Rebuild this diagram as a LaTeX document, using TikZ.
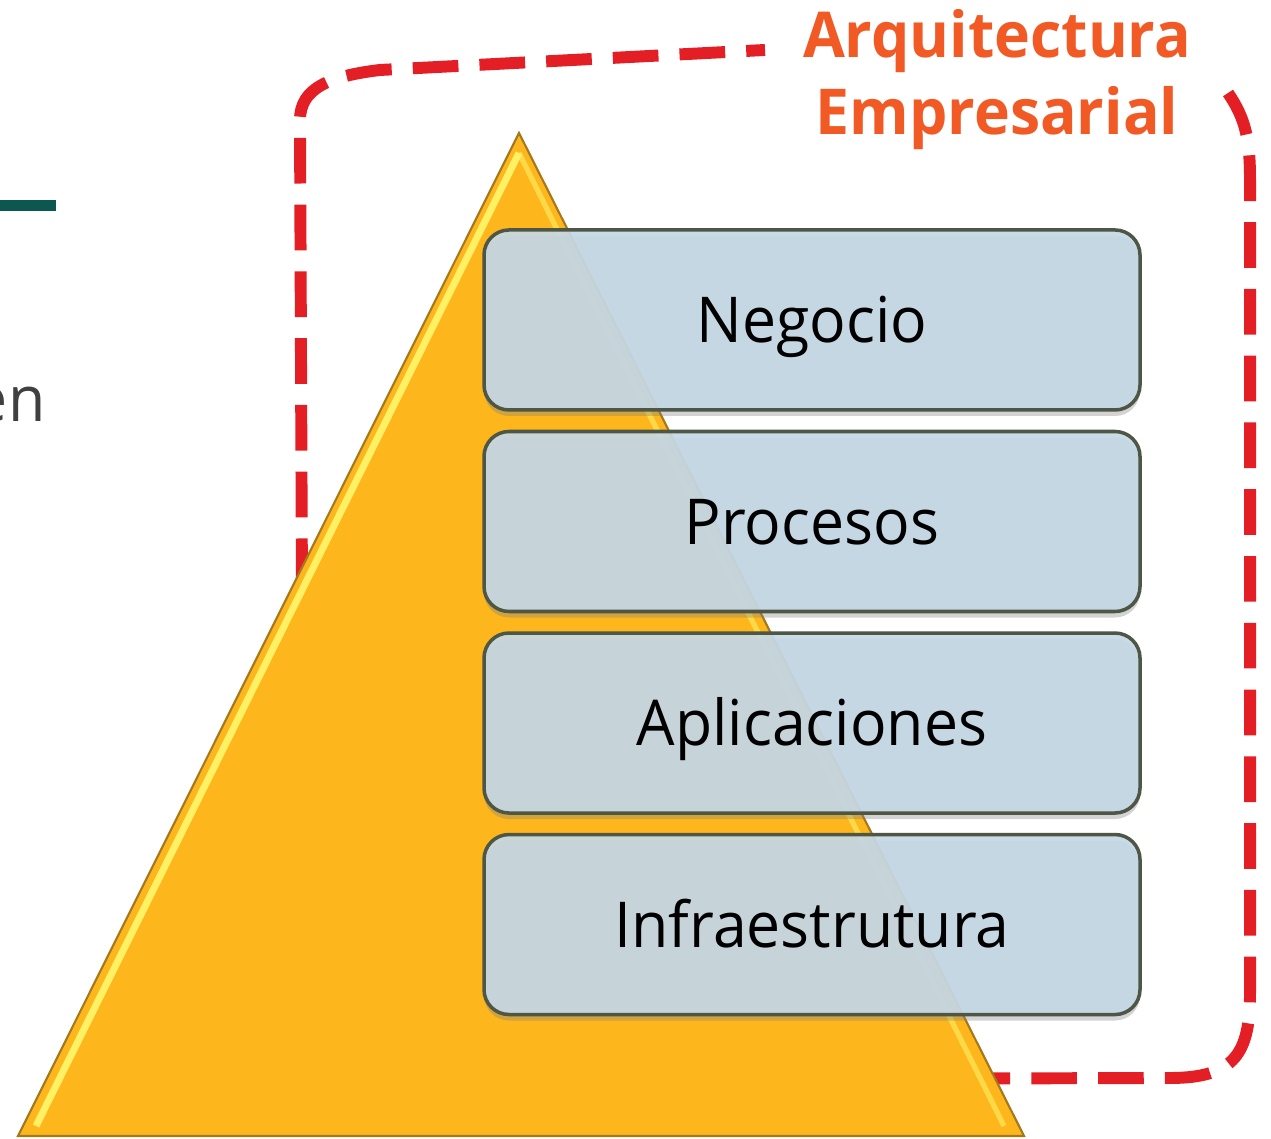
\documentclass[tikz,border=0pt]{standalone}
\usepackage{fontspec}
\setmainfont[FakeStretch=0.96]{Open Sans}
\usepackage{tikz}
\usepackage{xcolor}
\definecolor{rojo}{RGB}{228,30,37}
\definecolor{naranja}{RGB}{241,90,36}
\definecolor{oro}{RGB}{253,183,28}
\definecolor{orobrd}{RGB}{165,120,30}
\definecolor{brillo}{RGB}{255,240,100}
\definecolor{caja}{RGB}{198,216,230}
\definecolor{cajabrd}{RGB}{78,86,70}
\definecolor{verde}{RGB}{12,87,80}
\definecolor{gris}{RGB}{64,64,64}
\usetikzlibrary{positioning}
\usetikzlibrary{shadows}

\begin{document}
\begin{tikzpicture}[
	capa/.style={draw=cajabrd, line width=1pt, fill=caja, fill opacity=0.92, text opacity=1,
		rounded corners=0.25cm, minimum width=6.56cm, minimum height=1.8cm,
		text height=12.9pt, text depth=0pt, font=\fontsize{18}{22}\selectfont,
		drop shadow={shadow xshift=0cm, shadow yshift=-0.06cm, opacity=0.35}},
	borde/.style={draw=rojo, line width=3.4pt, dash pattern=on 13pt off 6pt},
	]
		\useasboundingbox (0,0) rectangle (12.71,11.38);

		%green bar & cut text
		\fill[verde] (0,9.38) rectangle (0.56,9.265);
		\node[anchor=base east, text=gris, font=\fontsize{18}{22}\selectfont, inner sep=0pt] (resto) at (0.46,7.16) {en};

		%dashed frame
		\draw[borde] (12.28,10.45) .. controls (12.45,10.2) and (12.50,10.0) .. (12.50,9.58)
			-- (12.50,1.45) .. controls (12.50,0.85) and (12.35,0.60) .. (11.70,0.60)
			-- (3.04,0.58) -- (3.00,10.18) .. controls (3.00,10.5) and (3.30,10.62) .. (3.80,10.68)
			-- (7.65,10.88);

		%pyramid
		\filldraw[draw=orobrd, fill=oro, line width=0.6pt] (5.19,10.05) -- (0.18,0.02) -- (10.24,0.02) -- cycle;
		\draw[brillo, line width=2pt] (5.19,9.85) -- (0.36,0.12);
		\draw[brillo, line width=1.5pt, opacity=0.6] (5.19,9.85) -- (10.04,0.12);

		%layers
		\node[capa] (neg) at (8.12,8.18) {Negocio};
		\node[capa, below=0.18cm of neg] (proc) {Procesos};
		\node[capa, below=0.18cm of proc] (apl) {Aplicaciones};
		\node[capa, below=0.18cm of apl] (infra) {Infraestrutura};

		%title
		\node[text=naranja, font=\bfseries\fontsize{18}{22}\selectfont, align=center, anchor=base] (titulo) at (9.97,10.03) {Arquitectura\\Empresarial};
\end{tikzpicture}
\end{document}
